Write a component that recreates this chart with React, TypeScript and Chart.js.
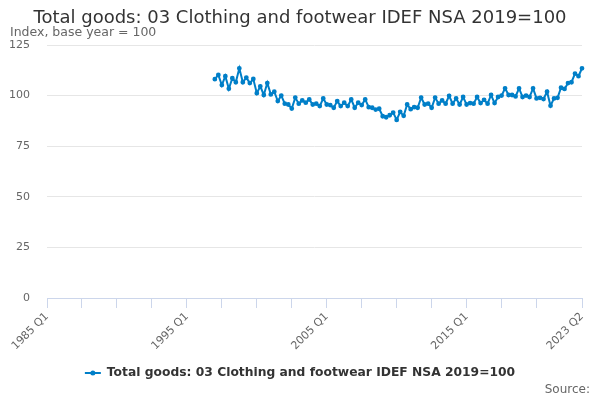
import { useEffect, useRef } from 'react'
import { Chart, registerables } from 'chart.js'

Chart.register(...registerables)

// quarterly categories, 1985 Q1 .. 2023 Q2
const quarters: string[] = []
for (let y = 1985; y <= 2023; y++) {
  for (let q = 1; q <= 4; q++) {
    if (y === 2023 && q > 2) break
    quarters.push(`${y} Q${q}`)
  }
}

const firstDataQuarter = '1997 Q1'

// Index, base year 2019 = 100, from 1997 Q1
const clothingIndex = [
  108.1, 110.2, 105.2, 109.6, // 1997
  103.4, 108.6, 106.6, 113.5, // 1998
  106.6, 108.9, 106.2, 108.2, // 1999
  101.2, 104.6, 100.3, 106.2, // 2000
  100.6, 101.9, 97.3, 100.0, // 2001
  96.0, 95.6, 93.6, 99.0, // 2002
  96.0, 97.6, 96.5, 98.1, // 2003
  95.6, 96.0, 94.8, 98.6, // 2004
  95.6, 95.3, 94.0, 97.3, // 2005
  94.8, 96.5, 94.8, 98.1, // 2006
  94.0, 96.5, 95.3, 98.1, // 2007
  94.3, 94.0, 93.1, 93.5, // 2008
  89.8, 89.3, 90.3, 91.6, // 2009
  88.0, 92.0, 90.0, 95.6, // 2010
  93.3, 94.3, 94.0, 99.0, // 2011
  95.6, 96.0, 94.0, 99.0, // 2012
  96.0, 97.6, 96.0, 99.9, // 2013
  96.0, 98.6, 95.6, 99.3, // 2014
  95.6, 96.3, 96.0, 99.3, // 2015
  96.3, 97.9, 96.0, 100.3, // 2016
  96.3, 99.3, 100.0, 103.6, // 2017
  100.3, 100.3, 99.6, 103.6, // 2018
  99.3, 100.0, 99.3, 103.6, // 2019
  98.6, 98.9, 98.3, 101.9, // 2020
  95.0, 98.6, 98.9, 103.9, // 2021
  103.3, 106.2, 106.6, 110.9, // 2022
  109.6, 113.5, // 2023
]

const yTicks = [0, 25, 50, 75, 100, 125]

const seriesName = 'Total goods: 03 Clothing and footwear IDEF NSA 2019=100'
const lineColor = '#007fc8'
const font = '"DejaVu Sans", Verdana, sans-serif'

export default function App() {
  const canvasRef = useRef<HTMLCanvasElement>(null)
  const chartRef = useRef<Chart | null>(null)

  useEffect(() => {
    if (!canvasRef.current) return
    chartRef.current?.destroy()

    const start = quarters.indexOf(firstDataQuarter)
    const data = quarters.map((_, i) => (i >= start ? clothingIndex[i - start] ?? null : null))
    const last = quarters.length - 1

    // title, subtitle, legend and source line
    const textPlugin = {
      id: 'texts',
      afterDraw(chart: Chart) {
        const c = chart.ctx
        c.save()
        c.fillStyle = '#333'
        c.font = `18px ${font}`
        c.textAlign = 'center'
        c.textBaseline = 'middle'
        c.fillText(seriesName, 300, 18)

        c.fillStyle = '#666'
        c.font = `12.5px ${font}`
        c.textAlign = 'left'
        c.fillText('Index, base year = 100', 10, 33)

        c.font = `bold 12.3px ${font}`
        const tw = c.measureText(seriesName).width
        const lx = 300 - (tw + 22) / 2
        const ly = 373
        c.strokeStyle = lineColor
        c.lineWidth = 2
        c.beginPath()
        c.moveTo(lx, ly)
        c.lineTo(lx + 16, ly)
        c.stroke()
        c.fillStyle = lineColor
        c.beginPath()
        c.arc(lx + 8, ly, 2.5, 0, Math.PI * 2)
        c.fill()
        c.fillStyle = '#333'
        c.fillText(seriesName, lx + 22, ly)

        c.fillStyle = '#666'
        c.font = `12px ${font}`
        c.textAlign = 'right'
        c.fillText('Source:', 590, 390)
        c.restore()
      },
    }

    chartRef.current = new Chart(canvasRef.current, {
      type: 'line',
      data: {
        labels: quarters,
        datasets: [
          {
            label: seriesName,
            data,
            borderColor: lineColor,
            backgroundColor: lineColor,
            borderWidth: 2,
            pointRadius: 1.4,
            pointHoverRadius: 3,
            tension: 0,
          },
        ],
      },
      options: {
        responsive: true,
        maintainAspectRatio: false,
        animation: false,
        layout: { padding: { top: 45, right: 18, bottom: 40, left: 0 } },
        plugins: {
          title: { display: false },
          tooltip: { enabled: false },
          legend: { display: false },
        },
        scales: {
          x: {
            offset: false,
            border: { color: '#ccd6eb' },
            grid: { drawOnChartArea: false, color: '#ccd6eb', tickLength: 10 },
            ticks: {
              autoSkip: false,
              maxRotation: 45,
              minRotation: 45,
              color: '#666',
              font: { family: font, size: 11 },
              padding: 2,
              callback: (_v, i) => {
                if (i % 40 === 0 || i === last) return quarters[i]
                if (i % 10 === 0 && i <= last - 10) return ''
                return null
              },
            },
            afterFit: (s: any) => { s.height = 62 },
          },
          y: {
            min: 0,
            max: 125,
            border: { display: false },
            grid: { color: '#e6e6e6', drawTicks: false },
            afterBuildTicks: (s: any) => { s.ticks = yTicks.map(v => ({ value: v })) },
            ticks: {
              color: '#666',
              font: { family: font, size: 11 },
              padding: 17,
            },
            afterFit: (s: any) => { s.width = 47 },
          },
        },
      },
      plugins: [textPlugin],
    })

    return () => chartRef.current?.destroy()
  }, [])

  return (
    <div style={{ position: 'fixed', left: 0, top: 0, width: 600, height: 400, background: '#fff' }}>
      <canvas ref={canvasRef} />
    </div>
  )
}
